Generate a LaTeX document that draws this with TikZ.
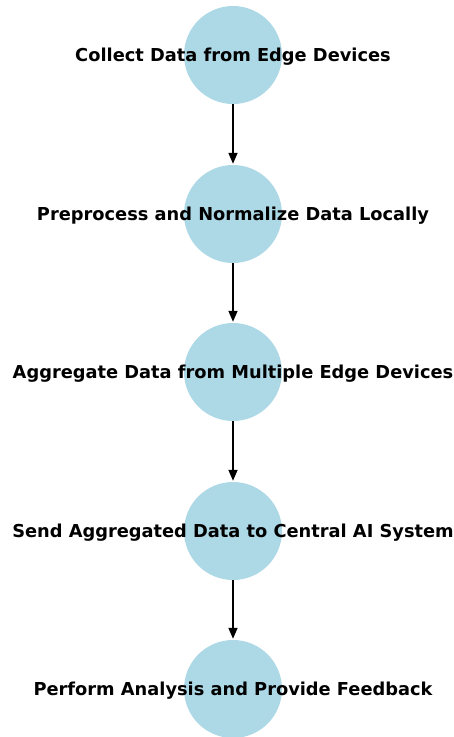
\documentclass[tikz,border=0pt]{standalone}
\usepackage{fontspec}
\setmainfont{DejaVu Sans}
\usepackage{tikz}
\usetikzlibrary{positioning}
\usetikzlibrary{arrows.meta}
\definecolor{nodeblue}{HTML}{ADD8E6}

\begin{document}
\begin{tikzpicture}[
					x=1pt, y=1pt,
					roundnode/.style={circle, fill=nodeblue, minimum size=98pt, inner sep=0pt},
					steplabel/.style={font=\fontsize{17.8}{21}\selectfont\bfseries, text=black, inner sep=0pt, yshift=-1.5pt},
					flow/.style={line width=1.5pt, -{Triangle[length=11pt,width=9pt]}, shorten >=1pt},
					]
					\useasboundingbox (0,0) rectangle (453,-737);
					%Nodes
					\node[roundnode, label={[steplabel]center:Collect Data from Edge Devices}]            (n0) 	at 	(233,-55)     {};
					\node[roundnode, label={[steplabel]center:Preprocess and Normalize Data Locally}]     (n1) 	at 	(233,-214)    {};
					\node[roundnode, label={[steplabel]center:Aggregate Data from Multiple Edge Devices}] (n2) 	at 	(233,-372)    {};
					\node[roundnode, label={[steplabel]center:Send Aggregated Data to Central AI System}] (n3) 	at 	(233,-531)    {};
					\node[roundnode, label={[steplabel]center:Perform Analysis and Provide Feedback}]     (n4) 	at 	(233,-689)    {};

					%Lines
					\draw[flow] (n0.south) -- (n1.north);
					\draw[flow] (n1.south) -- (n2.north);
					\draw[flow] (n2.south) -- (n3.north);
					\draw[flow] (n3.south) -- (n4.north);
				\end{tikzpicture}
\end{document}
